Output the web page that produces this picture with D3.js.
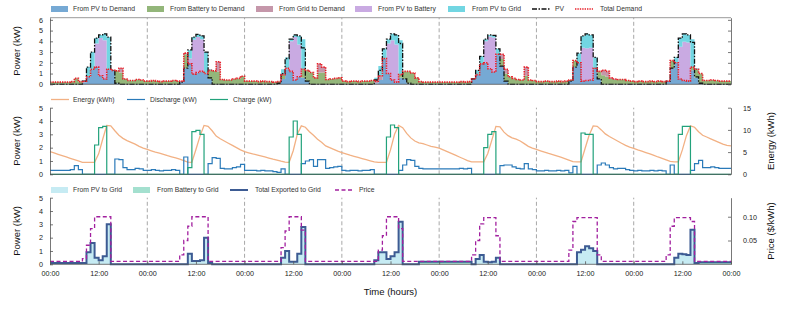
<!DOCTYPE html>
<html>
<head>
<meta charset="utf-8">
<script src="https://cdn.jsdelivr.net/npm/d3@7/dist/d3.min.js"></script>
<style>
  body { margin: 0; background: #fff; }
  svg { font-family: "Liberation Sans", Arial, sans-serif; }
  .axis path, .axis line { stroke: #555; stroke-width: 0.8; }
  .axis text { fill: #222; font-size: 7.2px; }
</style>
</head>
<body>
<svg id="chart" width="793" height="309"></svg>
<script>
// hourly values, one row per day (7 days x 24 h)
const pv = [
  0,0,0,0,0,0,0,0,0.3,1.6,3.0,4.3,4.6,4.7,4.4,1.3,0.1,0,0,0,0,0,0,0,
  0,0,0,0,0,0,0,0,0.2,1.5,3.2,4.4,4.65,4.5,3.0,0.6,0,0,0,0,0,0,0,0,
  0,0,0,0,0,0,0,0,0.1,1.0,2.4,4.2,4.6,4.5,3.4,0.3,0,0,0,0,0,0,0,0,
  0,0,0,0,0,0,0,0,0.4,1.3,3.3,4.2,4.7,4.6,3.8,0.5,0.1,0,0,0,0,0,0,0,
  0,0,0,0,0,0,0,0,0.5,1.3,2.6,4.2,4.6,4.55,3.3,1.7,0.3,0,0,0,0,0,0,0,
  0,0,0,0,0,0,0,0,0.3,1.6,2.9,4.5,4.7,4.6,2.5,0.5,0,0,0,0,0,0,0,0,
  0,0,0,0,0,0,0,0,0.3,1.5,2.5,4.3,4.7,4.6,3.9,0.7,0.1,0,0,0,0,0,0,0
];
const demand = [
  0.2,0.2,0.2,0.2,0.2,0.25,0.55,0.25,0.3,0.7,1.4,1.6,0.8,0.5,1.4,1.3,1.25,1.5,0.5,0.35,0.35,0.45,0.4,0.3,
  0.3,0.35,0.3,0.25,0.3,0.3,0.35,0.3,0.3,2.9,1.9,0.95,1.1,1.2,1.0,1.3,1.25,2.1,0.45,0.4,0.4,0.5,0.55,0.75,
  0.3,0.3,0.3,0.25,0.3,0.25,0.25,0.2,0.25,0.9,1.5,1.2,0.4,0.7,1.4,1.3,1.1,0.6,1.9,1.6,0.45,0.5,0.55,0.6,
  0.3,0.25,0.3,0.3,0.25,0.3,0.3,0.35,0.3,0.8,2.4,1.0,0.4,0.2,0.9,1.2,1.2,1.05,0.6,0.25,0.2,0.2,0.2,0.2,
  0.2,0.2,0.2,0.2,0.2,0.25,0.2,0.25,0.5,0.9,1.9,2.0,1.45,1.15,2.8,2.8,1.4,0.7,0.55,0.45,0.4,1.6,0.4,0.35,
  0.25,0.25,0.3,0.25,0.25,0.3,0.25,0.3,0.4,2.2,2.0,0.3,0.35,0.4,1.5,1.2,1.3,1.2,0.6,0.5,0.45,0.45,0.35,0.3,
  0.25,0.3,0.25,0.25,0.3,0.25,0.3,0.25,0.3,2.2,2.0,0.5,0.35,0.3,1.6,1.4,1.0,0.35,0.35,0.4,0.35,0.3,0.3,0.3
];
const pvToBattery = [
  0,0,0,0,0,0,0,0,0,0,0,2.2,3.5,3.6,0,0,0,0,0,0,0,0,0,0,
  0,0,0,0,0,0,0,0,0,0,0.5,3.2,3.3,3.0,0,0,0,0,0,0,0,0,0,0,
  0,0,0,0,0,0,0,0,0,0,0,2.8,4.0,3.0,0,0,0,0,0,0,0,0,0,0,
  0,0,0,0,0,0,0,0,0,0,0,2.8,3.7,3.5,0,0,0,0,0,0,0,0,0,0,
  0,0,0,0,0,0,0,0,0,0,0,2.0,3.0,3.2,0,0,0,0,0,0,0,0,0,0,
  0,0,0,0,0,0,0,0,0,0,0,3.1,3.0,3.0,0,0,0,0,0,0,0,0,0,0,
  0,0,0,0,0,0,0,0,0,0,0,3.0,3.6,3.6,0,0,0,0,0,0,0,0,0,0
];
const pvToGrid = [
  0,0,0,0,0,0,0,0,0.1,0.9,1.6,0.5,0.3,0.6,3.0,0,0,0,0,0,0,0,0,0,
  0,0,0,0,0,0,0,0,0,0,0.8,0.25,0.25,0.3,2.0,0.1,0,0,0,0,0,0,0,0,
  0,0,0,0,0,0,0,0,0,0.5,1.0,0.2,0.2,0.8,2.8,0,0,0,0,0,0,0,0,0,
  0,0,0,0,0,0,0,0,0.3,0.9,0.9,0.4,0.6,0.9,3.2,0,0,0,0,0,0,0,0,0,
  0,0,0,0,0,0,0,0,0,0.4,0.7,0.2,0.15,0.2,0.5,0,0,0,0,0,0,0,0,0,
  0,0,0,0,0,0,0,0,0,0,0.9,1.1,1.35,1.2,1.0,0,0,0,0,0,0,0,0,0,
  0,0,0,0,0,0,0,0,0,0,0.5,0.8,0.75,0.7,2.6,0.1,0,0,0,0,0,0,0,0
];
const gridToDemand = [
  0,0,0,0,0,0,0,0,0.1,0,0,0,0,0,0,0,0,0.4,0,0,0,0,0,0,
  0,0,0,0,0,0,0,0,0.1,0.1,0,0,0,0,0,0,0,0.9,0,0,0,0,0,0,
  0,0,0,0,0,0,0,0,0,0,0.1,0,0,0,0,0,0,0,0.8,0.5,0,0,0,0,
  0,0,0,0,0,0,0,0,0.2,0.4,0,0,0,0,0,0,0,0,0,0,0,0,0,0,
  0,0,0,0,0,0,0,0,0,0,0,0,0,0,0,0.45,0.4,0,0,0,0,0.8,0,0,
  0,0,0,0,0,0,0,0,0,0,0,0,0,0,0,0,0.45,0.5,0.1,0.1,0,0,0,0,
  0,0,0,0,0,0,0,0,0,0,0,0,0,0,0,0,0,0,0,0,0,0,0,0
];
const batteryToGrid = [
  0.1,0.1,0.1,0.1,0.1,0.1,0.1,0.1,0,0,0,0,0,0,0,0,0,0,0,0,0,0,0,0,
  0,0,0,0,0,0,0,0,0,0,0,0,0,0,0,0,0,0,0,0,0,0,0,0,
  0,0,0,0,0,0,0,0,0,0,0,0,0,0,0,0,0,0,0,0,0,0,0,0,
  0,0,0,0,0,0,0,0,0,0,0,0,0,0,0,0,0,0,0,0.2,0.2,0.2,0.2,0.2,
  0.2,0.2,0.2,0.2,0.2,0.2,0.2,0.2,0,0,0,0,0,0,0,0,0,0,0,0,0,0,0,0,
  0,0,0,0,0,0,0,0,0,0,0,0,0,0,0,0,0,0,0,0,0,0,0,0,
  0,0,0,0,0,0,0,0,0,0,0,0,0,0,0,0,0.15,0.15,0.15,0.15,0.15,0.15,0.15,0.15
];
// battery state of charge at each hour start (last value = end of week)
const energy = [
  5.1,4.8,4.5,4.2,3.9,3.6,3.3,3.0,2.7,2.7,2.7,2.7,4.6,7.9,11.0,10.9,9.8,8.8,8.1,7.6,7.2,6.8,6.3,5.9,
  5.6,5.3,5.0,4.75,4.5,4.2,3.95,3.7,3.4,3.1,2.75,2.7,5.6,8.6,11.0,10.8,9.8,8.6,8.0,7.5,7.0,6.5,6.0,5.5,
  5.1,4.85,4.6,4.4,4.15,3.9,3.65,3.4,3.2,2.95,2.75,2.7,5.3,9.0,10.9,10.6,9.6,8.8,7.9,7.2,6.4,6.0,5.6,5.2,
  4.9,4.6,4.3,4.05,3.8,3.55,3.3,3.05,2.8,2.7,2.7,2.7,5.5,9.0,11.0,10.5,9.2,8.2,7.5,7.1,6.9,6.6,6.3,6.1,
  5.9,5.5,5.1,4.7,4.3,3.9,3.5,3.1,2.8,2.8,2.8,2.8,4.7,7.7,10.8,10.7,9.5,8.7,8.2,7.9,7.5,6.9,6.3,5.9,
  5.6,5.3,5.0,4.7,4.45,4.15,3.85,3.55,3.2,2.85,2.8,2.8,5.8,8.8,10.9,10.8,10.0,9.1,8.5,8.0,7.5,7.0,6.5,6.1,
  5.85,5.5,5.2,4.9,4.6,4.25,3.9,3.6,3.25,2.9,2.8,2.8,5.5,8.7,10.9,10.6,9.6,8.8,8.4,8.0,7.6,7.2,6.8,6.5,
  6.4
];
const price = [
  0.006,0.006,0.006,0.006,0.006,0.006,0.006,0.006,0.012,0.04,0.075,0.1,0.1,0.1,0.1,0.006,0.006,0.006,0.006,0.006,0.006,0.006,0.006,0.006,
  0.006,0.006,0.006,0.006,0.006,0.006,0.006,0.006,0.02,0.05,0.08,0.1,0.1,0.1,0.1,0.006,0.006,0.006,0.006,0.006,0.006,0.006,0.006,0.006,
  0.006,0.006,0.006,0.006,0.006,0.006,0.006,0.006,0.006,0.035,0.07,0.1,0.1,0.1,0.072,0.006,0.006,0.006,0.006,0.006,0.006,0.006,0.006,0.006,
  0.006,0.006,0.006,0.006,0.006,0.006,0.006,0.006,0.006,0.03,0.06,0.1,0.1,0.1,0.075,0.006,0.006,0.006,0.006,0.006,0.006,0.006,0.006,0.006,
  0.006,0.006,0.006,0.006,0.006,0.006,0.006,0.006,0.02,0.05,0.085,0.098,0.098,0.098,0.06,0.006,0.006,0.006,0.006,0.006,0.006,0.006,0.006,0.006,
  0.006,0.006,0.006,0.006,0.006,0.006,0.006,0.006,0.03,0.09,0.098,0.098,0.098,0.098,0.098,0.02,0.006,0.006,0.006,0.006,0.006,0.006,0.006,0.006,
  0.006,0.006,0.006,0.006,0.006,0.006,0.006,0.006,0.02,0.08,0.098,0.098,0.098,0.098,0.09,0.006,0.006,0.006,0.006,0.006,0.006,0.006,0.006,0.006
];
const xTicks = [0,12,24,36,48,60,72,84,96,108,120,132,144,156,168];

// energy balance
const N = pv.length;
const pvToDemand = pv.map((v, i) => Math.max(0, v - pvToBattery[i] - pvToGrid[i]));
const batteryToDemand = demand.map((v, i) => Math.max(0, v - pvToDemand[i] - gridToDemand[i]));
const discharge = batteryToDemand.map((v, i) => v + batteryToGrid[i]);
const exported = pvToGrid.map((v, i) => v + batteryToGrid[i]);

const ext = a => a.concat([a[a.length - 1]]);
const hours = d3.range(N + 1);

const svg = d3.select("#chart");
const left = 50, right = 731;
const x = d3.scaleLinear().domain([0, N]).range([left, right]);

const yTop = d3.scaleLinear().domain([0, 6.2]).range([84.3, 17.7]);
const yMid = d3.scaleLinear().domain([0, 5]).range([174.3, 107.7]);
const yMidR = d3.scaleLinear().domain([0, 15]).range([174.3, 107.7]);
const yBot = d3.scaleLinear().domain([0, 5]).range([264.3, 197.7]);
const yBotR = d3.scaleLinear().domain([0, 0.14]).range([264.3, 197.7]);

// day separators
function daylines(scale) {
  const [y0, y1] = scale.range();
  svg.append("g").selectAll("line")
    .data(xTicks.filter(t => t % 24 === 0 && t > 0 && t < N))
    .join("line")
    .attr("x1", d => x(d)).attr("x2", d => x(d))
    .attr("y1", y0).attr("y2", y1)
    .attr("stroke", "#a8a8a8").attr("stroke-width", 1)
    .attr("stroke-dasharray", "4,2.5");
}

const stepLine = (scale) => d3.line()
  .curve(d3.curveStepAfter)
  .x((d, i) => x(i))
  .y(d => scale(d));

// ---------- top panel: power flows ----------
daylines(yTop);
const topKeys = ["pvToDemand", "batteryToDemand", "gridToDemand", "pvToBattery", "pvToGrid"];
const topSeries = { pvToDemand, batteryToDemand, gridToDemand, pvToBattery, pvToGrid };
const topColors = {
  pvToDemand: "#76a9d4",
  batteryToDemand: "#93b67a",
  gridToDemand: "#c597aa",
  pvToBattery: "#c9aae2",
  pvToGrid: "#72d6e2"
};
const topRows = hours.map(i => {
  const r = { h: i };
  topKeys.forEach(k => r[k] = topSeries[k][Math.min(i, N - 1)]);
  return r;
});
const topStack = d3.stack().keys(topKeys)(topRows);
const topArea = d3.area()
  .curve(d3.curveStepAfter)
  .x(d => x(d.data.h))
  .y0(d => yTop(d[0]))
  .y1(d => yTop(d[1]));
svg.append("g").selectAll("path")
  .data(topStack)
  .join("path")
  .attr("d", topArea)
  .attr("fill", d => topColors[d.key]);

svg.append("path")
  .attr("d", stepLine(yTop)(ext(pv)))
  .attr("fill", "none").attr("stroke", "#111").attr("stroke-width", 1.3)
  .attr("stroke-dasharray", "5,1.5,1.5,1.5");
svg.append("path")
  .attr("d", stepLine(yTop)(ext(demand)))
  .attr("fill", "none").attr("stroke", "#e8202a").attr("stroke-width", 1.6)
  .attr("stroke-dasharray", "1.4,1");

// ---------- middle panel: battery ----------
daylines(yMid);
svg.append("path")
  .attr("d", d3.line().x((d, i) => x(i)).y(d => yMidR(d))(energy))
  .attr("fill", "none").attr("stroke", "#f2b184").attr("stroke-width", 1.3);
svg.append("path")
  .attr("d", stepLine(yMid)(ext(discharge)))
  .attr("fill", "none").attr("stroke", "#2a7ab9").attr("stroke-width", 1.2);
svg.append("path")
  .attr("d", stepLine(yMid)(ext(pvToBattery)))
  .attr("fill", "none").attr("stroke", "#22a27b").attr("stroke-width", 1.2);

// ---------- bottom panel: export ----------
daylines(yBot);
const botKeys = ["pvToGrid", "batteryToGrid"];
const botColors = { pvToGrid: "#c6ebf3", batteryToGrid: "#a4e0cf" };
const botRows = hours.map(i => ({
  h: i,
  pvToGrid: pvToGrid[Math.min(i, N - 1)],
  batteryToGrid: batteryToGrid[Math.min(i, N - 1)]
}));
const botStack = d3.stack().keys(botKeys)(botRows);
svg.append("g").selectAll("path")
  .data(botStack)
  .join("path")
  .attr("d", d3.area().curve(d3.curveStepAfter)
    .x(d => x(d.data.h)).y0(d => yBot(d[0])).y1(d => yBot(d[1])))
  .attr("fill", d => botColors[d.key]);
svg.append("path")
  .attr("d", stepLine(yBot)(ext(exported)))
  .attr("fill", "none").attr("stroke", "#3d5b93").attr("stroke-width", 2);
svg.append("path")
  .attr("d", stepLine(yBotR)(ext(price)))
  .attr("fill", "none").attr("stroke", "#a2209f").attr("stroke-width", 1.3)
  .attr("stroke-dasharray", "4,2.5");

// ---------- axes (ticks point inward) ----------
function yAxes(scale, ticks, rScale, rTicks, rFmt, boxTop) {
  svg.append("g").attr("class", "axis")
    .attr("transform", `translate(${left},0)`)
    .call(d3.axisLeft(scale).tickValues(ticks).tickSize(-3).tickSizeOuter(0)
      .tickPadding(7).tickFormat(d3.format("d")));
  svg.append("g").attr("class", "axis")
    .attr("transform", `translate(${right},0)`)
    .call(d3.axisRight(rScale).tickValues(rTicks).tickSize(-3).tickSizeOuter(0)
      .tickPadding(12).tickFormat(rFmt));
  const [y0, y1] = scale.range();
  svg.append("line").attr("x1", left).attr("x2", right).attr("y1", y0).attr("y2", y0)
    .attr("stroke", "#555").attr("stroke-width", 0.8);
  if (boxTop) svg.append("line").attr("x1", left).attr("x2", right).attr("y1", y1).attr("y2", y1)
    .attr("stroke", "#9a9a9a").attr("stroke-width", 1);
}
yAxes(yTop, [0, 1, 2, 3, 4, 5, 6], yTop, [0, 1, 2, 3, 4, 5, 6], () => "", true);
yAxes(yMid, [0, 1, 2, 3, 4, 5], yMidR, [0, 5, 10, 15], d3.format("d"), false);
yAxes(yBot, [0, 1, 2, 3, 4, 5], yBotR, [0.05, 0.10], d3.format(".2f"), false);

svg.append("g").attr("class", "axis")
  .attr("transform", `translate(0,${yBot(0)})`)
  .call(d3.axisBottom(x).tickValues(xTicks).tickSize(-3).tickSizeOuter(0).tickPadding(7)
    .tickFormat(h => (h % 24 === 0 ? "00:00" : "12:00")))
  .select(".domain").remove();

// titles
const title = (txt, tx, ty, rot) => svg.append("text")
  .attr("transform", `translate(${tx},${ty})` + (rot ? " rotate(-90)" : ""))
  .attr("text-anchor", "middle").attr("dominant-baseline", "central")
  .attr("font-size", 9.5).attr("fill", "#111").text(txt);
title("Power (kW)", 16, 51, true);
title("Power (kW)", 16, 141, true);
title("Power (kW)", 16, 231, true);
title("Energy (kWh)", 770, 141, true);
title("Price ($/kWh)", 770, 231, true);
title("Time (hours)", (left + right) / 2, 291, false);

// legends
function legend(y, items) {
  items.forEach(it => {
    if (it.kind === "rect") {
      svg.append("rect").attr("x", it.x).attr("y", y - 3).attr("width", 17).attr("height", 6)
        .attr("fill", it.color);
    } else {
      svg.append("line").attr("x1", it.x).attr("x2", it.x + 18).attr("y1", y).attr("y2", y)
        .attr("stroke", it.color).attr("stroke-width", it.w)
        .attr("stroke-dasharray", it.dash || null);
    }
    svg.append("text").attr("x", it.tx).attr("y", y).attr("dy", "0.35em")
      .attr("font-size", 6.8).attr("fill", "#333").text(it.label);
  });
}
legend(9, [
  { kind: "rect", x: 51, tx: 73, color: topColors.pvToDemand, label: "From PV to Demand" },
  { kind: "rect", x: 147, tx: 170, color: topColors.batteryToDemand, label: "From Battery to Demand" },
  { kind: "rect", x: 256, tx: 279, color: topColors.gridToDemand, label: "From Grid to Demand" },
  { kind: "rect", x: 355, tx: 378, color: topColors.pvToBattery, label: "From PV to Battery" },
  { kind: "rect", x: 448, tx: 472, color: topColors.pvToGrid, label: "From PV to Grid" },
  { kind: "line", x: 532, tx: 555, color: "#111", w: 1.3, dash: "5,1.5,1.5,1.5", label: "PV" },
  { kind: "line", x: 575, tx: 600, color: "#e8202a", w: 1.6, dash: "1.4,1", label: "Total Demand" }
]);
legend(99.5, [
  { kind: "line", x: 51, tx: 73, color: "#f2b184", w: 1.3, label: "Energy (kWh)" },
  { kind: "line", x: 127, tx: 150, color: "#2a7ab9", w: 1.2, label: "Discharge (kW)" },
  { kind: "line", x: 210, tx: 233, color: "#22a27b", w: 1.2, label: "Charge (kW)" }
]);
legend(190, [
  { kind: "rect", x: 51, tx: 73, color: botColors.pvToGrid, label: "From PV to Grid" },
  { kind: "rect", x: 133, tx: 157, color: botColors.batteryToGrid, label: "From Battery to Grid" },
  { kind: "line", x: 230, tx: 255, color: "#3d5b93", w: 2, label: "Total Exported to Grid" },
  { kind: "line", x: 335, tx: 359, color: "#a2209f", w: 1.3, dash: "4,2.5", label: "Price" }
]);
</script>
</body>
</html>
